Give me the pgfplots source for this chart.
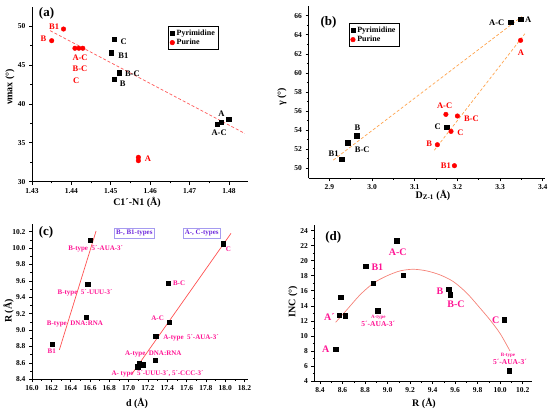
\documentclass[border=0pt]{standalone}
\usepackage{fontspec}
\setmainfont{Liberation Serif}
\usepackage{pgfplots}
\pgfplotsset{compat=1.18}
\definecolor{lblpink}{RGB}{255,20,147}
\definecolor{boxtxt}{RGB}{110,40,220}
\definecolor{boxline}{RGB}{165,155,240}
\definecolor{trendA}{RGB}{255,90,90}
\definecolor{trendB}{RGB}{255,165,80}
\definecolor{trendC}{RGB}{255,80,80}
\definecolor{trendD}{RGB}{245,130,120}
\newcommand{\fs}[1]{\bfseries\fontsize{#1}{#1}\selectfont}
\begin{document}
\begin{tikzpicture}[x=1pt,y=1pt]
\useasboundingbox (0,0) rectangle (550,-413);
\pgfplotsset{
  every axis/.append style={
    scale only axis, anchor=south west,
    axis x line*=bottom, axis y line*=left,
    x axis line style={-}, y axis line style={-},
    axis line style={line width=0.8pt},
    tick align=outside, tick style={line width=0.6pt, black},
    major tick length=3pt, minor tick length=1.6pt,
    minor tick num=1,
    tick label style={font=\fs{7.5}},
    /pgf/number format/assume math mode=true,
    clip=false,
  },
  mysq/.style={only marks, mark=square*, mark size=2.2pt, black},
  myci/.style={only marks, mark=*, mark size=2.3pt, red},
}

% ---------------- (a)
\begin{axis}[at={(32pt,-181.7pt)}, width=216.3pt, height=175.2pt,
  xmin=1.43, xmax=1.4849, ymin=30, ymax=52.5,
  xtick={1.43,1.44,1.45,1.46,1.47,1.48}, ytick={30,35,40,45,50},
  xticklabel style={/pgf/number format/.cd, fixed, fixed zerofill, precision=2},
  legend style={at={(0.63,0.89)}, anchor=north west, draw=black, line width=0.5pt,
    font=\fs{8}, inner sep=1.5pt, row sep=-1.5pt},
  legend cell align=left]
\addplot[mysq] coordinates {(1.4509,48.29) (1.4501,46.57) (1.4521,44.0) (1.4509,43.15) (1.4799,38.02) (1.4780,37.67) (1.4770,37.41)};
\addlegendentry{Pyrimidine}
\addplot[myci] coordinates {(1.4380,49.61) (1.4350,48.11) (1.4409,47.14) (1.4419,47.14) (1.4429,47.14) (1.4570,33.13) (1.4570,32.70)};
\addlegendentry{Purine}
\addplot[trendA, densely dashed, line width=0.7pt, forget plot] coordinates {(1.4346,49.4) (1.4840,36.2)};
\node[font=\fs{13}] at (axis cs:1.4337,51.63) {(a)};
\begin{scope}[every node/.style={font=\fs{8.5}, black}]
\node at (axis cs:1.4533,47.99) {C};
\node at (axis cs:1.4532,46.15) {B1};
\node at (axis cs:1.4555,43.92) {B-C};
\node at (axis cs:1.4530,42.55) {B};
\node at (axis cs:1.4781,38.79) {A};
\node at (axis cs:1.4775,36.30) {A-C};
\end{scope}
\begin{scope}[every node/.style={font=\fs{8.5}, red}]
\node at (axis cs:1.4356,49.91) {B1};
\node at (axis cs:1.4329,48.42) {B};
\node at (axis cs:1.4422,45.93) {A-C};
\node at (axis cs:1.4422,44.48) {B-C};
\node at (axis cs:1.4412,43.02) {C};
\node at (axis cs:1.4594,32.92) {A};
\end{scope}
\end{axis}
\node[rotate=90, font=\fs{10}] at (10,-87) {νmax (°)};
\node[font=\fs{10}] at (137,-202) {C1´-N1 (Å)};

% ---------------- (b)
\begin{axis}[at={(308.5pt,-178.3pt)}, width=236.4pt, height=172.2pt,
  xmin=2.851, xmax=3.405, ymin=48.95, ymax=67,
  xtick={2.9,3.0,3.1,3.2,3.3,3.4}, ytick={50,52,54,56,58,60,62,64,66},
  xticklabel style={/pgf/number format/.cd, fixed, fixed zerofill, precision=1},
  legend style={at={(0.171,0.903)}, anchor=north west, draw=black, line width=0.5pt,
    font=\fs{8}, inner sep=1.5pt, row sep=-1.5pt},
  legend cell align=left]
\addplot[mysq] coordinates {(3.325,65.3) (3.348,65.62) (2.964,53.42) (2.943,52.68) (2.929,50.98) (3.175,54.32)};
\addlegendentry{Pyrimidine}
\addplot[myci] coordinates {(3.348,63.41) (3.173,55.65) (3.200,55.48) (3.185,53.87) (3.153,52.47) (3.193,50.27)};
\addlegendentry{Purine}
\addplot[trendB, densely dashed, line width=0.7pt, forget plot] coordinates {(2.909,50.86) (3.351,65.9)};
\addplot[trendB, densely dashed, line width=0.7pt, forget plot] coordinates {(3.146,51.9) (3.358,64.1)};
\node[font=\fs{13}] at (axis cs:2.898,65.26) {(b)};
\begin{scope}[every node/.style={font=\fs{8.5}, black}]
\node at (axis cs:3.292,65.26) {A-C};
\node at (axis cs:3.366,65.55) {A};
\node at (axis cs:2.966,54.30) {B};
\node at (axis cs:2.977,51.92) {B-C};
\node at (axis cs:2.910,51.57) {B1};
\node at (axis cs:3.154,54.33) {C};
\end{scope}
\begin{scope}[every node/.style={font=\fs{8.5}, red}]
\node at (axis cs:3.349,62.12) {A};
\node at (axis cs:3.170,56.53) {A-C};
\node at (axis cs:3.233,55.24) {B-C};
\node at (axis cs:3.207,53.74) {C};
\node at (axis cs:3.134,52.55) {B};
\node at (axis cs:3.173,50.27) {B1};
\end{scope}
\end{axis}
\node[rotate=90, font=\fs{10}] at (282,-97) {γ (°)};
\node[font=\fs{10}] at (433,-195) {D\textsubscript{Z-1} (Å)};

% ---------------- (c)
\begin{axis}[at={(32pt,-379.3pt)}, width=216.4pt, height=155.8pt,
  xmin=16.0, xmax=18.24, ymin=8.4, ymax=10.30,
  xtick={16.0,16.2,16.4,16.6,16.8,17.0,17.2,17.4,17.6,17.8,18.0,18.2},
  ytick={8.4,8.6,8.8,9.0,9.2,9.4,9.6,9.8,10.0,10.2},
  ticklabel style={/pgf/number format/.cd, fixed, fixed zerofill, precision=1}]
\addplot[mysq] coordinates {(16.21,8.827) (16.559,9.16) (16.576,9.558) (16.60,10.099) (17.98,10.054) (17.408,9.574) (17.418,9.095) (17.28,8.924) (17.273,8.636) (17.146,8.579) (17.111,8.592) (17.094,8.554)};
\addplot[trendC, line width=0.7pt] coordinates {(16.283,8.758) (16.663,10.208)};
\addplot[trendC, line width=0.7pt] coordinates {(17.032,8.461) (18.06,10.18)};
\node[font=\fs{13}] at (axis cs:16.145,10.19) {(c)};
\begin{scope}[every node/.style={font=\fs{7}, lblpink}]
\node at (axis cs:16.659,9.997) {B-type~ 5´-AUA-3´};
\node at (axis cs:16.549,9.452) {B-type~ 5´-UUU-3´};
\node at (axis cs:16.445,9.070) {B-type~ DNA:RNA};
\node at (axis cs:16.204,8.745) {B1};
\node at (axis cs:18.032,9.985) {C};
\node at (axis cs:17.522,9.570) {B-C};
\node at (axis cs:17.300,9.144) {A-C};
\node at (axis cs:17.646,8.907) {A-type~ 5´-AUA-3´};
\node at (axis cs:17.256,8.712) {A-type~ DNA:RNA};
\node at (axis cs:17.300,8.461) {A- type~ 5´-UUU-3´, 5´-CCC-3´};
\end{scope}
\node[font=\fs{7}, text=boxtxt, draw=boxline, line width=0.6pt, inner sep=2pt] at (axis cs:17.059,10.18) {B-, B1-types};
\node[font=\fs{7}, text=boxtxt, draw=boxline, line width=0.6pt, inner sep=2pt] at (axis cs:17.757,10.184) {A-, C-types};
\end{axis}
\node[rotate=90, font=\fs{10}] at (8.5,-311) {R (Å)};
\node[font=\fs{10}] at (137,-403) {d (Å)};

% ---------------- (d)
\begin{axis}[at={(314.4pt,-381pt)}, width=217.3pt, height=156.4pt,
  xmin=8.35, xmax=10.28, ymin=4, ymax=24.8,
  xtick={8.4,8.6,8.8,9.0,9.2,9.4,9.6,9.8,10.0,10.2},
  ytick={4,6,8,10,12,14,16,18,20,22,24},
  xticklabel style={/pgf/number format/.cd, fixed, fixed zerofill, precision=1}]
\addplot[mysq] coordinates {(8.539,8.26) (8.569,12.79) (8.622,12.69) (8.584,15.18) (8.806,19.30) (8.873,17.00) (8.912,13.36) (9.081,22.67) (9.137,18.11) (9.543,16.20) (9.557,15.49) (10.037,12.16) (10.078,5.38)};
\addplot[trendD, smooth, line width=0.7pt] coordinates {(8.539,11.81) (8.637,13.45) (8.755,15.45) (8.873,17.00) (8.992,17.97) (9.110,18.64) (9.229,18.86) (9.348,18.64) (9.466,18.11) (9.584,17.22) (9.703,15.70) (9.821,13.70) (9.910,12.12) (10.000,10.30) (10.087,8.00)};
\node[font=\fs{13}] at (axis cs:8.518,23.1) {(d)};
\begin{scope}[every node/.style={font=\fs{10}, lblpink}]
\node at (axis cs:8.450,8.26) {A};
\node at (axis cs:8.483,12.56) {A´};
\node at (axis cs:8.909,19.08) {B1};
\node at (axis cs:9.090,21.07) {A-C};
\node at (axis cs:9.466,15.94) {B};
\node at (axis cs:9.608,14.21) {B-C};
\node at (axis cs:9.960,12.12) {C};
\end{scope}
\node[font=\fs{5}, lblpink] at (axis cs:8.918,12.52) {A-type};
\node[font=\fs{7.5}, lblpink] at (axis cs:8.918,11.55) {5´-AUA-3´};
\node[font=\fs{5}, lblpink] at (axis cs:10.07,7.46) {B-type};
\node[font=\fs{7.5}, lblpink] at (axis cs:10.087,6.50) {5´-AUA-3´};
\end{axis}
\node[rotate=90, font=\fs{10}] at (293,-302) {INC (°)};
\node[font=\fs{10}] at (424,-403) {R (Å)};
\end{tikzpicture}
\end{document}
